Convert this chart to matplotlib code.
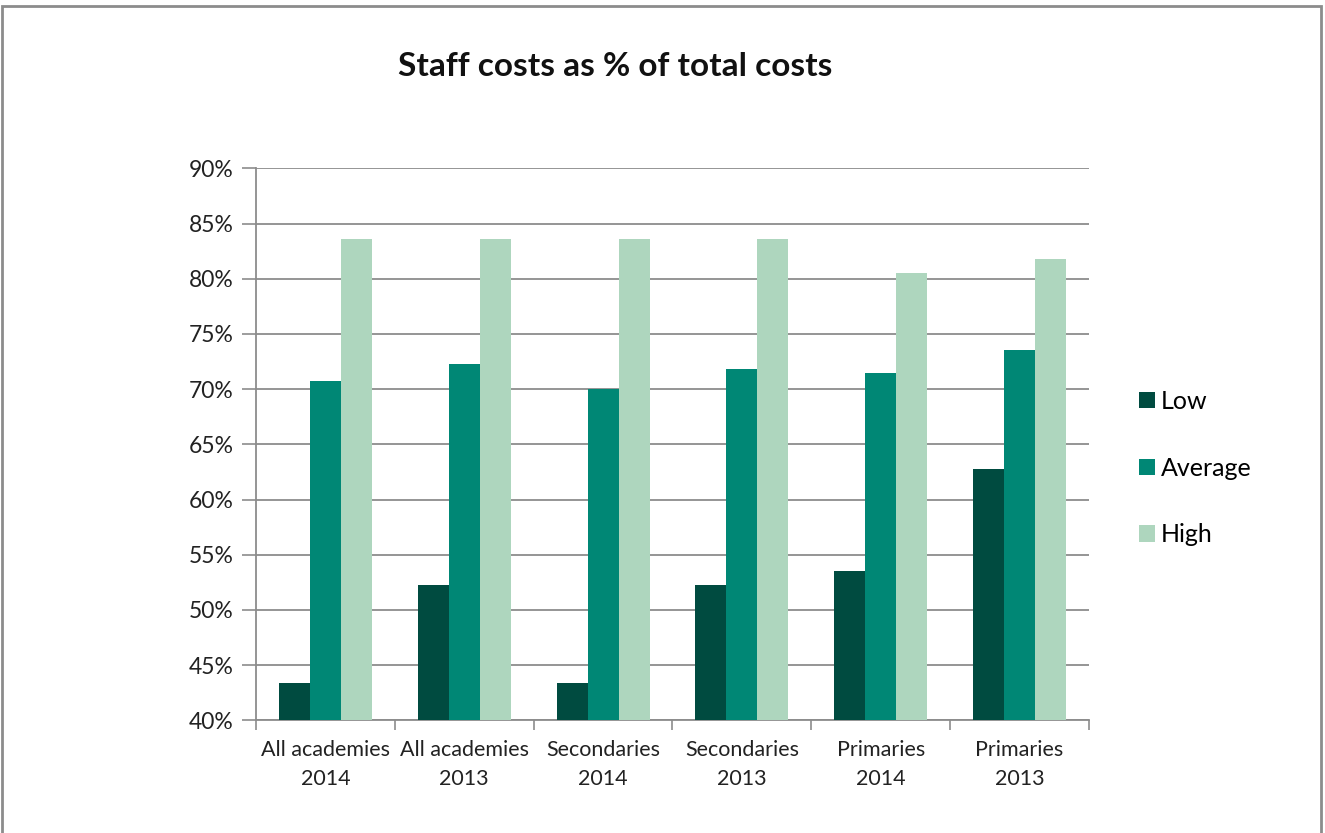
import matplotlib
matplotlib.use("Agg")
import matplotlib.pyplot as plt
import matplotlib.patches as mpatches
import numpy as np

plt.rcParams['font.family'] = ['Lato', 'DejaVu Sans']

categories = ["All academies\n2014", "All academies\n2013", "Secondaries\n2014",
              "Secondaries\n2013", "Primaries\n2014", "Primaries\n2013"]
low = [43.4, 52.3, 43.4, 52.3, 53.5, 62.8]
average = [70.7, 72.3, 70.0, 71.8, 71.5, 73.5]
high = [83.6, 83.6, 83.6, 83.6, 80.5, 81.8]

series_names = ["Low", "Average", "High"]
series_colors = ["#004B40", "#008775", "#AED6BE"]

W, H = 1325, 833
fig = plt.figure(figsize=(W / 100, H / 100), dpi=100)
ax = fig.add_axes([256 / W, 1 - 720.3 / H, (1089 - 256) / W, (720.3 - 168.3) / H])

x = np.arange(len(categories))
bw = 0.223
for i, (vals, name, col) in enumerate(zip([low, average, high], series_names, series_colors)):
    ax.bar(x + (i - 1) * bw, vals, width=bw, bottom=0, color=col, label=name,
           edgecolor='none', zorder=3)

ax.set_xlim(-0.5, len(categories) - 0.5)
ax.set_ylim(40, 90)
yt = np.arange(40, 91, 5)
ax.set_yticks(yt)
ax.set_yticklabels([f"{v}%" for v in yt], fontsize=16.5, color='#222222')
ax.yaxis.grid(True, color='#8c8c8c', linewidth=1.3, zorder=0)
ax.set_axisbelow(True)

ax.set_xticks(x)
ax.set_xticklabels(categories, fontsize=15.5, color='#222222', linespacing=1.55)
ax.tick_params(axis='x', length=0, pad=14)
ax.set_xticks(np.arange(-0.5, len(categories)), minor=True)
ax.tick_params(axis='x', which='minor', length=7, width=1.2, color='#8c8c8c')
ax.tick_params(axis='y', length=10, width=1.2, color='#8c8c8c', pad=6)

for s in ['top', 'right']:
    ax.spines[s].set_visible(False)
for s in ['left', 'bottom']:
    ax.spines[s].set_color('#8c8c8c')
    ax.spines[s].set_linewidth(1.3)

fig.text(615 / W, 1 - 67 / H, "Staff costs as % of total costs", ha='center', va='center',
         fontsize=24, fontweight='bold', color='#111111')

leg = ax.legend(loc='center left', bbox_to_anchor=((1129 - 256) / (1089 - 256), (720.3 - 468) / 552),
                frameon=False, fontsize=18, handlelength=0.62, handleheight=0.62,
                handletextpad=0.25, labelspacing=1.75, borderaxespad=0)

border = mpatches.Rectangle((1.5 / W, -0.01), (1320.5 - 1.5) / W, 1.01 - 5.5 / H,
                            transform=fig.transFigure, fill=False, edgecolor='#8c8c8c',
                            linewidth=2, clip_on=False)
fig.patches.append(border)

fig.savefig("out.png", dpi=100)
